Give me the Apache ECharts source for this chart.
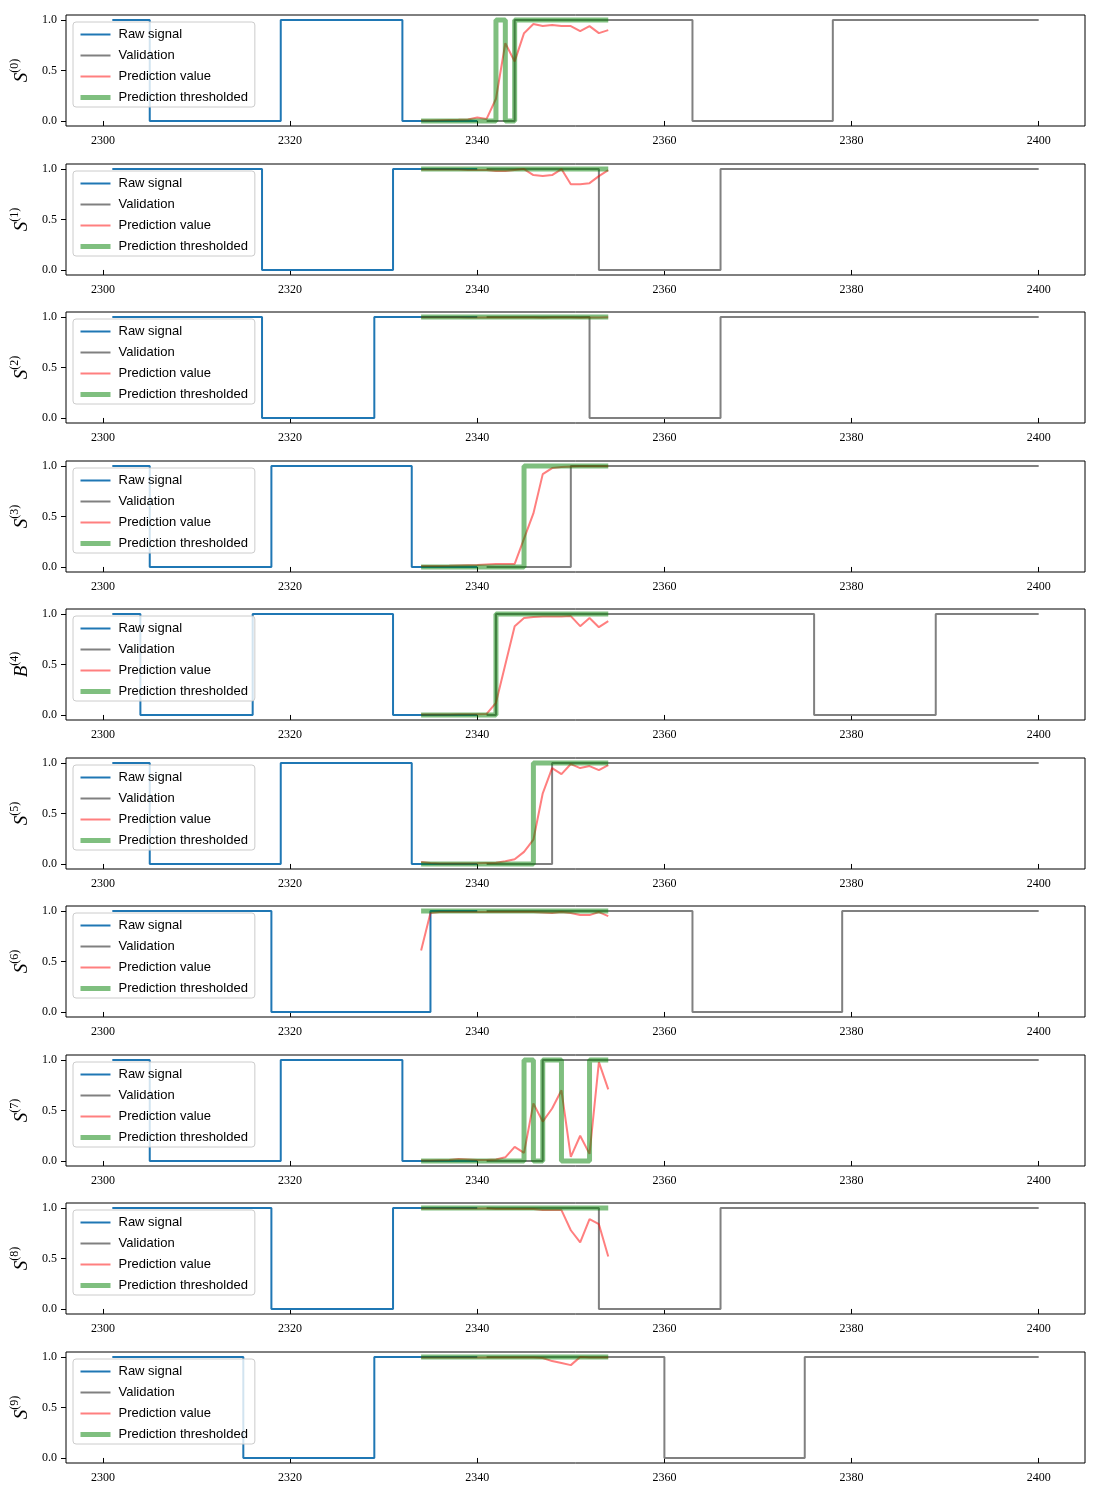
<!DOCTYPE html>
<html><head><meta charset="utf-8">
<script src="https://cdn.jsdelivr.net/npm/echarts@6/dist/echarts.min.js"></script>
<style>html,body{margin:0;padding:0;background:#fff}#c{width:1100px;height:1500px}</style>
</head><body><div id="c"></div>
<script>
const xTicks = [2300, 2320, 2340, 2360, 2380, 2400];
const yTicks = [0, 0.5, 1];
const axisLetters = ['S','S','S','S','B','S','S','S','S','S'];
const legendNames = ['Raw signal', 'Validation', 'Prediction value', 'Prediction thresholded'];
const predX = [2334,2335,2336,2337,2338,2339,2340,2341,2342,2343,2344,2345,2346,2347,2348,2349,2350,2351,2352,2353,2354];

// step change points [x, value]
const rawSteps = [
  [[2301,1],[2305,0],[2319,1],[2332,0],[2340,0]],
  [[2301,1],[2317,0],[2331,1],[2340,1]],
  [[2301,1],[2317,0],[2329,1],[2340,1]],
  [[2301,1],[2305,0],[2318,1],[2333,0],[2340,0]],
  [[2301,1],[2304,0],[2316,1],[2331,0],[2340,0]],
  [[2301,1],[2305,0],[2319,1],[2333,0],[2340,0]],
  [[2301,1],[2318,0],[2335,1],[2340,1]],
  [[2301,1],[2305,0],[2319,1],[2332,0],[2340,0]],
  [[2301,1],[2318,0],[2331,1],[2340,1]],
  [[2301,1],[2315,0],[2329,1],[2340,1]]
];
const valSteps = [
  [[2341,0],[2344,1],[2363,0],[2378,1],[2400,1]],
  [[2341,1],[2353,0],[2366,1],[2400,1]],
  [[2341,1],[2352,0],[2366,1],[2400,1]],
  [[2341,0],[2350,1],[2400,1]],
  [[2341,0],[2342,1],[2376,0],[2389,1],[2400,1]],
  [[2341,0],[2348,1],[2400,1]],
  [[2341,1],[2363,0],[2379,1],[2400,1]],
  [[2341,0],[2347,1],[2400,1]],
  [[2341,1],[2353,0],[2366,1],[2400,1]],
  [[2341,1],[2360,0],[2375,1],[2400,1]]
];
const predValues = [
  [0.005,0.005,0.008,0.01,0.012,0.015,0.035,0.02,0.22,0.77,0.59,0.87,0.96,0.94,0.95,0.94,0.94,0.89,0.94,0.87,0.90],
  [0.995,0.995,0.995,0.995,0.995,0.99,0.99,0.99,0.98,0.98,0.99,1.0,0.94,0.93,0.94,1.0,0.85,0.85,0.86,0.93,0.99],
  [0.998,0.998,0.997,0.997,0.997,0.996,0.996,0.996,0.995,0.995,0.995,0.996,0.995,0.994,0.995,0.996,0.995,0.994,0.995,0.996,0.997],
  [0.01,0.01,0.01,0.012,0.015,0.018,0.02,0.025,0.03,0.03,0.03,0.28,0.53,0.92,0.98,0.99,0.995,0.997,0.998,0.998,0.998],
  [0.005,0.005,0.005,0.005,0.006,0.007,0.008,0.01,0.12,0.5,0.88,0.96,0.97,0.975,0.975,0.975,0.98,0.88,0.96,0.87,0.93],
  [0.02,0.01,0.005,0.005,0.005,0.005,0.007,0.01,0.013,0.026,0.046,0.12,0.24,0.70,0.95,0.89,0.99,0.95,0.97,0.93,0.98],
  [0.61,0.98,0.99,0.99,0.99,0.99,0.99,0.99,0.99,0.99,0.99,0.99,0.99,0.985,0.98,0.99,0.98,0.96,0.96,0.99,0.95],
  [0.005,0.005,0.008,0.01,0.02,0.015,0.01,0.01,0.015,0.036,0.14,0.08,0.57,0.39,0.52,0.70,0.04,0.25,0.07,0.98,0.71],
  [0.995,0.995,0.995,0.995,0.995,0.995,0.995,0.995,0.99,0.99,0.99,0.99,0.99,0.98,0.98,0.98,0.78,0.66,0.89,0.84,0.52],
  [0.995,0.995,0.995,0.995,0.995,0.995,0.995,0.995,0.995,0.995,0.995,0.995,0.995,0.99,0.96,0.94,0.92,1.0,0.995,0.995,0.995]
];
const thrSteps = [
  [[2334,0],[2342,1],[2343,0],[2344,1],[2354,1]],
  [[2334,1],[2354,1]],
  [[2334,1],[2354,1]],
  [[2334,0],[2345,1],[2354,1]],
  [[2334,0],[2342,1],[2354,1]],
  [[2334,0],[2346,1],[2354,1]],
  [[2334,1],[2354,1]],
  [[2334,0],[2345,1],[2346,0],[2347,1],[2349,0],[2352,1],[2354,1]],
  [[2334,1],[2354,1]],
  [[2334,1],[2354,1]]
];

const N = 10;
const grids = [], xAxes = [], yAxes = [], series = [], legends = [];
const tickFont = {fontFamily: 'Liberation Serif', fontSize: 12, color: '#000'};
for (let i = 0; i < N; i++) {
  const top = Math.round(15 + i * 148.56);
  grids.push({left: 66, width: 1019, top: top, height: 111, show: true, borderColor: '#000', borderWidth: 1, backgroundColor: 'transparent'});
  xAxes.push({
    gridIndex: i, type: 'value', min: 2296.05, max: 2404.95,
    axisLine: {show: false}, splitLine: {show: false},
    axisTick: {show: true, inside: false, customValues: xTicks, length: 5, lineStyle: {color: '#000', width: 1}},
    axisLabel: Object.assign({customValues: xTicks, margin: 9, formatter: v => String(v)}, tickFont)
  });
  yAxes.push({
    gridIndex: i, type: 'value', min: -0.05, max: 1.05,
    axisLine: {show: false}, splitLine: {show: false},
    axisTick: {show: true, inside: false, customValues: yTicks, length: 5, lineStyle: {color: '#000', width: 1}},
    axisLabel: Object.assign({customValues: yTicks, margin: 9, formatter: v => v.toFixed(1)}, tickFont),
    name: '{i|' + axisLetters[i] + '}{s|(' + i + ')}',
    nameLocation: 'middle', nameRotate: 90, nameGap: 34,
    nameTextStyle: {
      rich: {
        i: {fontFamily: 'Liberation Serif', fontStyle: 'italic', fontSize: 19, color: '#000', lineHeight: 22, verticalAlign: 'bottom'},
        s: {fontFamily: 'Liberation Serif', fontSize: 12, color: '#000', lineHeight: 22, verticalAlign: 'top'}
      }
    }
  });
  series.push({
    name: 'Raw signal', type: 'line', xAxisIndex: i, yAxisIndex: i, data: rawSteps[i], step: 'end', symbol: 'none',
    color: '#1f77b4', lineStyle: {color: '#1f77b4', width: 2}, silent: true
  });
  series.push({
    name: 'Validation', type: 'line', xAxisIndex: i, yAxisIndex: i, data: valSteps[i], step: 'end', symbol: 'none',
    color: '#808080', lineStyle: {color: '#808080', width: 2}, silent: true
  });
  series.push({
    name: 'Prediction value', type: 'line', xAxisIndex: i, yAxisIndex: i,
    data: predX.map((x, k) => [x, predValues[i][k]]), symbol: 'none',
    color: '#ff0000', lineStyle: {color: '#ff0000', width: 2, opacity: 0.5}, silent: true
  });
  series.push({
    name: 'Prediction thresholded', type: 'line', xAxisIndex: i, yAxisIndex: i, data: thrSteps[i], step: 'end', symbol: 'none',
    color: '#008000', lineStyle: {color: '#008000', width: 5, opacity: 0.5}, silent: true
  });
  legends.push({
    left: 73, top: top + 7, orient: 'vertical', itemWidth: 30, itemHeight: 14, itemGap: 8,
    padding: [6, 7, 3, 5], backgroundColor: 'rgba(255,255,255,0.8)', borderColor: '#cccccc', borderWidth: 1, borderRadius: 3,
    selectedMode: false,
    itemStyle: {color: 'rgba(0,0,0,0)', borderWidth: 0, opacity: 0},
    textStyle: {fontFamily: 'Liberation Sans', fontSize: 13, color: '#000', padding: [0, 0, 0, 3]},
    data: [
      {name: legendNames[0], lineStyle: {width: 2}},
      {name: legendNames[1], lineStyle: {width: 2}},
      {name: legendNames[2], lineStyle: {width: 2}},
      {name: legendNames[3], lineStyle: {width: 5}}
    ]
  });
}
const chart = echarts.init(document.getElementById('c'), null, {renderer: 'canvas'});
chart.setOption({animation: false, backgroundColor: '#fff', grid: grids, xAxis: xAxes, yAxis: yAxes, series: series, legend: legends});
</script></body></html>
